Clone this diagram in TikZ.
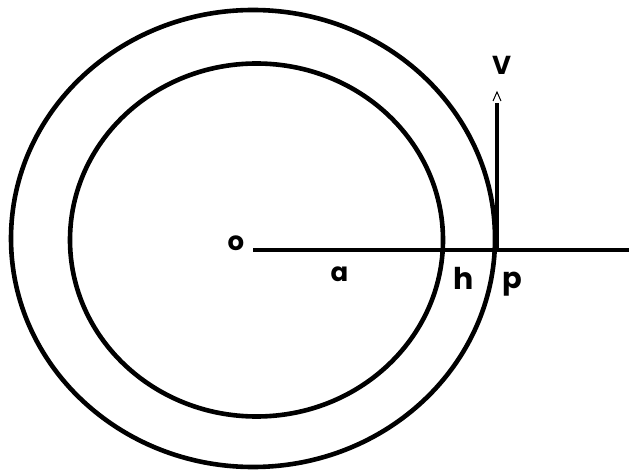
\documentclass[tikz,border=0pt]{standalone}
\usepackage{fontspec}
\newfontfamily\lab{Poppins}
\begin{document}
\begin{tikzpicture}[x=1pt,y=-1pt,
  ring/.style={line width=4.6pt},
  bar/.style={line width=4.8pt},
  lbl/.style={anchor=base,inner sep=0pt,font=\lab\bfseries}]
\useasboundingbox (0,0) rectangle (629,470);
% circles
\draw[ring] (253,238.5) ellipse [x radius=242, y radius=228.5];
\draw[ring] (256.5,240) ellipse [x radius=186.5, y radius=176.5];
% coordinates
\coordinate (O) at (253,250);
\coordinate (E) at (629,250);
\coordinate (P) at (497,250);
\coordinate (T) at (497,103);
% radial line and velocity
\draw[bar] (O) -- (E);
\draw[bar] (P) -- (T);
\draw[line width=1pt] (493,101) -- (497,92) -- (501,101);
% labels
\node[lbl,font=\lab\bfseries\fontsize{26}{26}\selectfont] (o) at (236,250.5) {o};
\node[lbl,font=\lab\bfseries\fontsize{26}{26}\selectfont] (a) at (339.5,281.5) {a};
\node[lbl,font=\lab\bfseries\fontsize{30}{30}\selectfont] (h) at (463.5,290) {h};
\node[lbl,font=\lab\bfseries\fontsize{29}{29}\selectfont] (p) at (512.5,289) {p};
\node[lbl,font=\lab\bfseries\fontsize{26}{26}\selectfont] (v) at (501.5,75) {V};
\end{tikzpicture}
\end{document}
